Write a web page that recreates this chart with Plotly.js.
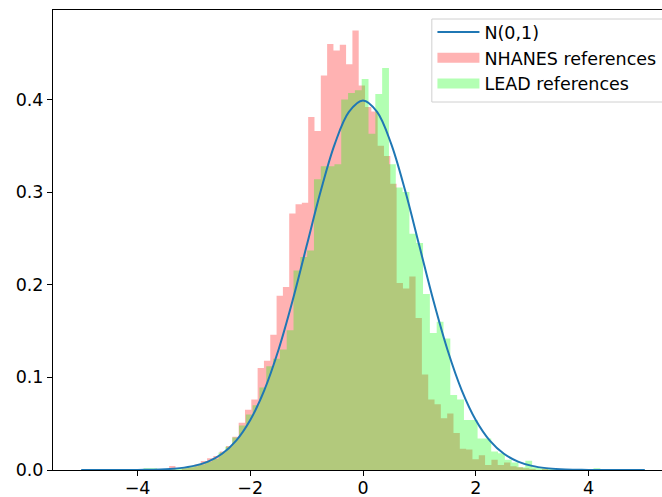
<!DOCTYPE html>
<html><head><meta charset="utf-8">
<script src="https://cdn.plot.ly/plotly-3.0.1.min.js"></script>
<style>html,body{margin:0;padding:0;overflow:hidden;background:#fff}#chart{width:673px;height:497px}</style>
</head><body><div id="chart"></div>
<script>
// NHANES references histogram (density), bins of equal width starting at nhanesStart
const nhanesStart = -3.439;
const nhanesWidth = 0.1121;
const nhanesDensity = [
  0.0043, 0.0, 0.002, 0.003, 0.006, 0.0097, 0.0126, 0.015, 0.020, 0.026,
  0.036, 0.051, 0.065, 0.076, 0.110, 0.118, 0.146, 0.188, 0.1975, 0.277,
  0.287, 0.2886, 0.381, 0.366, 0.426, 0.460, 0.453, 0.459, 0.438, 0.4746,
  0.415, 0.392, 0.387, 0.350, 0.339, 0.309, 0.202, 0.196, 0.209, 0.164,
  0.103, 0.076, 0.071, 0.056, 0.061, 0.040, 0.023, 0.022, 0.0116, 0.016,
  0.0054, 0.011, 0.0054, 0.008, 0.004, 0.003, 0.002, 0.001, 0.0, 0.001
];
// LEAD references histogram (density)
const leadStart = -3.894;
const leadWidth = 0.12096;
const leadDensity = [
  0.002, 0.002, 0.001, 0.001, 0.001, 0.002, 0.003, 0.004, 0.006, 0.009,
  0.012, 0.019, 0.025, 0.035, 0.048, 0.060, 0.070, 0.089, 0.112, 0.120,
  0.130, 0.151, 0.2155, 0.230, 0.237, 0.314, 0.328, 0.328, 0.330, 0.400,
  0.407, 0.410, 0.422, 0.363, 0.406, 0.434, 0.330, 0.305, 0.300, 0.255,
  0.245, 0.190, 0.148, 0.160, 0.142, 0.081, 0.076, 0.054, 0.054, 0.034,
  0.034, 0.020, 0.018, 0.011, 0.008, 0.003, 0.010, 0.003, 0.002, 0.001,
  0.001, 0.0, 0.0, 0.001, 0.0, 0.0, 0.002
];
// N(0,1) reference curve samples
const normalX = [-5,-4.75,-4.5,-4.25,-4,-3.75,-3.5,-3.25,-3,-2.75,-2.5,-2.25,-2,-1.75,-1.5,-1.25,-1,-0.75,-0.5,-0.25,
  0,0.25,0.5,0.75,1,1.25,1.5,1.75,2,2.25,2.5,2.75,3,3.25,3.5,3.75,4,4.25,4.5,4.75,5];
const normalY = [0.0000015,0.0000051,0.000016,0.000046,0.000134,0.000353,0.000873,0.00203,0.00443,0.00909,0.01753,0.03174,0.05399,0.08628,0.12952,0.18265,0.24197,0.30114,0.35207,0.38667,
  0.39894,0.38667,0.35207,0.30114,0.24197,0.18265,0.12952,0.08628,0.05399,0.03174,0.01753,0.00909,0.00443,0.00203,0.000873,0.000353,0.000134,0.000046,0.000016,0.0000051,0.0000015];

const seriesNames = ['N(0,1)', 'NHANES references', 'LEAD references'];
const xTicks = [-4,-2,0,2,4];
const xTickText = ['\u22124','\u22122','0','2','4'];
const yTicks = [0,0.1,0.2,0.3,0.4];
const yTickText = ['0.0','0.1','0.2','0.3','0.4'];

function stepXY(start, width, vals){
  const x=[], y=[];
  for(let i=0;i<vals.length;i++){ x.push(start+i*width); y.push(vals[i]); }
  x.push(start+vals.length*width); y.push(vals[vals.length-1]);
  return {x, y};
}
const nh = stepXY(nhanesStart, nhanesWidth, nhanesDensity);
const ld = stepXY(leadStart, leadWidth, leadDensity);

const font = {family:'DejaVu Sans', size:17.5, color:'#000'};
const data = [
  {x: nh.x, y: nh.y, type:'scatter', mode:'lines', line:{shape:'hv', width:0, color:'rgba(255,0,0,0.3)'},
   fill:'tozeroy', fillcolor:'rgba(255,0,0,0.3)', name:seriesNames[1], showlegend:false, hoverinfo:'skip'},
  {x: ld.x, y: ld.y, type:'scatter', mode:'lines', line:{shape:'hv', width:0, color:'rgba(0,255,0,0.3)'},
   fill:'tozeroy', fillcolor:'rgba(0,255,0,0.3)', name:seriesNames[2], showlegend:false, hoverinfo:'skip'},
  // legend-only entries (no points) giving rectangle-like patches
  {x:[null], y:[null], type:'scatter', mode:'lines', line:{color:'#ffb3b3', width:12},
   name:seriesNames[1], legendrank:2, legendgroup:'b', showlegend:true},
  {x:[null], y:[null], type:'scatter', mode:'lines', line:{color:'#b3ffb3', width:12},
   name:seriesNames[2], legendrank:3, legendgroup:'c', showlegend:true},
  {x: normalX, y: normalY, type:'scatter', mode:'lines', line:{color:'#1f77b4', width:2, shape:'spline'},
   name:seriesNames[0], legendrank:1, legendgroup:'a'}
];
const axisCommon = {showline:true, linecolor:'#000', linewidth:1, mirror:true, ticks:'outside', ticklen:5,
  tickwidth:1, tickcolor:'#000', showgrid:false, zeroline:false, tickfont:font};
const layout = {
  width:673, height:497,
  margin:{l:53, r:0, t:10, b:27, pad:0},
  paper_bgcolor:'#fff', plot_bgcolor:'#fff',
  font: font,
  showlegend:true,
  xaxis: Object.assign({range:[-5.5,5.5], tickvals:xTicks, ticktext:xTickText, ticklabelstandoff:-3}, axisCommon),
  yaxis: Object.assign({range:[0,0.4966], tickvals:yTicks, ticktext:yTickText}, axisCommon),
  legend:{x:0.612, y:0.991, xanchor:'left', yanchor:'top', bgcolor:'rgba(0,0,0,0)',
    borderwidth:0, font:font, itemwidth:42, traceorder:'grouped', tracegroupgap:0},
  shapes:[{type:'rect', xref:'paper', yref:'paper', x0:0.611, x1:1.05, y0:(470-102)/460, y1:(470-19)/460,
    line:{color:'#d0d0d0', width:1}, fillcolor:'rgba(255,255,255,0.8)', layer:'above'}]
};
Plotly.newPlot('chart', data, layout, {displayModeBar:false, staticPlot:true});
</script></body></html>
